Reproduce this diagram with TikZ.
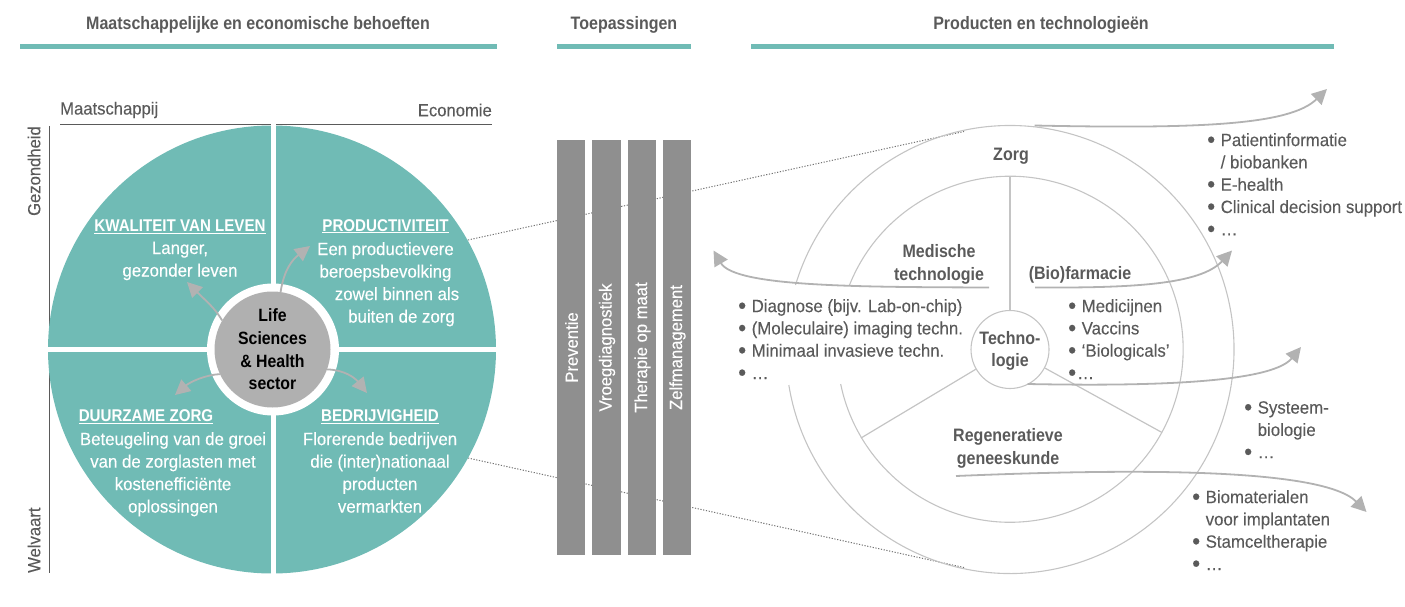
\documentclass[tikz,border=0pt]{standalone}
\usepackage{fontspec}
\setmainfont[UprightFeatures={FakeStretch=0.945,FakeBold=0.15},BoldFeatures={FakeStretch=0.89}]{Liberation Sans}
\usetikzlibrary{arrows.meta}
\definecolor{teal1}{HTML}{70BBB5}
\definecolor{txt}{HTML}{5A5A5A}
\definecolor{arrowgrey}{HTML}{B2B2B2}
\definecolor{ringgrey}{HTML}{C4C4C4}
\definecolor{bargrey}{HTML}{8F8F8F}
\definecolor{hubgrey}{HTML}{B0B0B0}
\newcommand{\qtitle}[1]{\underline{\fontsize{17}{22.5}\selectfont\textbf{#1}}}
\tikzset{
  lbl/.style={font=\fontsize{17.8}{22.3}\selectfont,text=txt,inner sep=0pt,align=left,anchor=north west},
  qtxt/.style={font=\fontsize{17.8}{22.5}\selectfont,text=white,inner sep=0pt,align=center},
  head/.style={font=\fontsize{18}{20}\selectfont\bfseries,text=txt,inner sep=0pt},
  sub/.style={font=\fontsize{17.6}{20}\selectfont,text=txt,inner sep=0pt},
  tech/.style={font=\fontsize{18}{22.3}\selectfont\bfseries,text=txt,inner sep=0pt,align=center},
  barlabel/.style={font=\fontsize{17.6}{20}\selectfont,text=white,inner sep=0pt,rotate=90},
  barbox/.style={fill=bargrey,draw=none,minimum width=28.5pt,minimum height=415pt,inner sep=0pt},
  rule/.style={fill=teal1,draw=none,minimum height=4.5pt,inner sep=0pt},
  flow/.style={draw=arrowgrey,line width=1.8pt,-{Triangle[length=15pt,width=15pt,fill=arrowgrey]}},
  ring/.style={draw=ringgrey,line width=1.1pt},
  dots/.style={draw=txt!85,line width=1pt,dash pattern=on 1.2pt off 1.6pt},
}
\begin{document}
\begin{tikzpicture}[x=1pt,y=1pt]
\useasboundingbox (0,0) rectangle (1405,-607);
% headers
\node[head] (h1) at (258,-25) {Maatschappelijke en economische behoeften};
\node[head] (h2) at (624,-25) {Toepassingen};
\node[head] (h3) at (1041,-25) {Producten en technologieën};
\node[rule,minimum width=477pt] (r1) at (258.5,-46.5) {};
\node[rule,minimum width=134pt] (r2) at (624,-46.5) {};
\node[rule,minimum width=583pt] (r3) at (1042.5,-46.5) {};
% axes
\node[sub,anchor=west] (am) at (60,-110) {Maatschappij};
\node[sub,anchor=east] (ae) at (492,-110) {Economie};
\coordinate (a1) at (60,-124.5); \coordinate (a2) at (492,-124.5);
\draw[txt,line width=1pt] (a1) -- (a2);
\coordinate (a3) at (49,-126); \coordinate (a4) at (49,-573);
\draw[txt,line width=1pt] (a3) -- (a4);
\node[sub,rotate=90,anchor=east] (ag) at (34,-126) {Gezondheid};
\node[sub,rotate=90,anchor=west] (aw) at (34,-573) {Welvaart};
% dotted
\coordinate (d1) at (468,-240); \coordinate (d2) at (964,-131.5);
\coordinate (d3) at (468,-458); \coordinate (d4) at (964,-567.5);
\draw[dots] (d1) -- (d2);
\draw[dots] (d3) -- (d4);
% teal disc
\fill[teal1] (272,-349.5) circle (224);
\fill[white] (271,-120) rectangle (276,-580);
\fill[white] (40,-347) rectangle (505,-352);
\fill[white] (273,-349.5) circle (66);
\node[circle,fill=hubgrey,minimum size=116pt,inner sep=0pt,align=center,
  font=\fontsize{17.8}{22.6}\selectfont\bfseries,text=black] (hub) at (272.5,-349.5) {Life\\Sciences\\\& Health\\sector};
% quadrant text
\node[qtxt] (q1) at (180,-250) {\qtitle{KWALITEIT VAN LEVEN}\\Langer,\\gezonder leven};
\node[qtxt,anchor=north] (q2) at (385.5,-219) {\qtitle{PRODUCTIVITEIT}};
\node[qtxt,anchor=north] (q2a) at (385.5,-242) {Een productievere\\beroepsbevolking};
\node[qtxt,anchor=north] (q2b) at (397,-287) {zowel binnen als\\\hspace*{9pt}buiten de zorg};
\node[qtxt] (q3t) at (146,-417) {\qtitle{DUURZAME ZORG}};
\node[qtxt,anchor=north] (q3) at (173,-432) {Beteugeling van de groei\\van de zorglasten met\\kostenefficiënte\\oplossingen};
\node[qtxt] (q4t) at (380,-417) {\qtitle{BEDRIJVIGHEID}};
\node[qtxt,anchor=north] (q4) at (380,-432) {Florerende bedrijven\\die (inter)nationaal\\producten\\vermarkten};
% hub arrows
\coordinate (t1) at (187,-282); \coordinate (t2) at (310,-246);
\coordinate (t3) at (175,-395); \coordinate (t4) at (367,-393);
\draw[flow] (hub.150) .. controls (215,-308) and (205,-300) .. (t1);
\draw[flow] (hub.82) .. controls (284,-270) and (292,-260) .. (t2);
\draw[flow] (hub.205) .. controls (205,-375) and (190,-382) .. (t3);
\draw[flow] (hub.-20) .. controls (345,-370) and (355,-378) .. (t4);
% bars
\node[barbox] (b1) at (571,-347.5) {}; \node[barbox] (b2) at (606.5,-347.5) {};
\node[barbox] (b3) at (642,-347.5) {}; \node[barbox] (b4) at (677,-347.5) {};
\node[barlabel] (l1) at (571.5,-347.5) {Preventie};
\node[barlabel] (l2) at (607,-347.5) {Vroegdiagnostiek};
\node[barlabel] (l3) at (642.5,-347.5) {Therapie op maat};
\node[barlabel] (l4) at (677.5,-347.5) {Zelfmanagement};
% rings
\draw[ring] (795.5,-285) arc (163.26:-170.87:224);
\draw[ring] (849.5,-285) arc (158.2:-168.4:173);
\node[ring,circle,minimum size=78pt,inner sep=0pt] (core) at (1010,-349.5) {};
\node[tech] (coret) at (1010,-351) {Techno-\\logie};
\coordinate (s1) at (1010,-176.5); \coordinate (s2) at (861,-438); \coordinate (s3) at (1162,-432.5);
\draw[ring,line width=1.2pt] (core.north) -- (s1);
\draw[ring,line width=1.2pt] (core.210) -- (s2);
\draw[ring,line width=1.2pt] (core.-28) -- (s3);
% ring labels
\node[tech] (zorg) at (1011,-156.5) {Zorg};
\node[tech] (med) at (939,-264.5) {Medische\\technologie};
\node[tech] (bio) at (1080,-274.5) {(Bio)farmacie};
\node[tech] (reg) at (1008,-448.5) {Regeneratieve\\geneeskunde};
% right arrows
\coordinate (f1) at (1034.5,-125.5); \coordinate (f1t) at (1327,-89);
\coordinate (f2) at (989,-287.5); \coordinate (f2t) at (713.5,-250.5);
\coordinate (f3) at (1035,-287.5); \coordinate (f3t) at (1232,-250.5);
\coordinate (f4) at (1027.5,-384); \coordinate (f4t) at (1301,-347);
\coordinate (f5) at (956,-476); \coordinate (f5t) at (1366.5,-512);
\draw[flow] (f1) .. controls (1200,-129) and (1290,-125) .. (f1t);
\draw[flow] (f2) .. controls (860,-287) and (735,-287) .. (f2t);
\draw[flow] (f3) .. controls (1130,-288) and (1200,-285) .. (f3t);
\draw[flow] (f4) .. controls (1130,-386) and (1270,-385) .. (f4t);
\draw[flow] (f5) .. controls (1100,-470) and (1320,-465) .. (f5t);
% lists
\newcommand{\bu}{\makebox[13.5pt][l]{\smash{\fontsize{24}{24}\selectfont\raisebox{-1.6pt}{\textbullet}}}}
\node[lbl] (n1) at (1207,-133) {\bu Patientinformatie\\\hspace*{13.5pt}/ biobanken\\\bu E-health\\\bu Clinical decision support\\\bu …};
\node[lbl] (n2) at (738,-299) {\bu Diagnose (bijv. Lab-on-chip)\\\bu (Moleculaire) imaging techn.\\\bu Minimaal invasieve techn.\\\bu …};
\node[lbl] (n3) at (1068,-299) {\bu Medicijnen\\\bu Vaccins\\\bu ‘Biologicals’\\\makebox[9pt][l]{\smash{\fontsize{24}{24}\selectfont\raisebox{-1.6pt}{\textbullet}}}…};
\node[lbl] (n4) at (1244,-401) {\bu Systeem-\\\hspace*{13.5pt}biologie\\\bu …};
\node[lbl] (n5) at (1192,-490) {\bu Biomaterialen\\\hspace*{13.5pt}voor implantaten\\\bu Stamceltherapie\\\bu …};
\end{tikzpicture}
\end{document}
